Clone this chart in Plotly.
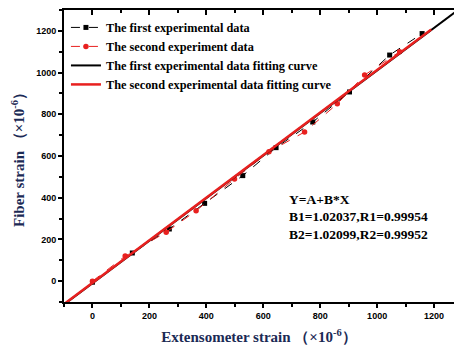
import plotly.graph_objects as go

# Data
x1 = [0, 140, 270, 394, 528, 645, 774, 903, 1044, 1158]
y1 = [-5, 135, 250, 373, 506, 640, 763, 907, 1084, 1187]
x2 = [0, 115, 259, 364, 499, 620, 745, 860, 956, 1079]
y2 = [0, 120, 235, 337, 490, 620, 715, 850, 988, 1100]

A1, B1 = -10, 1.02037
A2, B2 = -8, 1.02099
fit1_x = [-100, 1300]
fit2_x = [-100, 1190]
fit1_y = [A1 + B1 * v for v in fit1_x]
fit2_y = [A2 + B2 * v for v in fit2_x]

tick_vals = [0, 200, 400, 600, 800, 1000, 1200]
ann_lines = ["Y=A+B*X", "B1=1.02037,R1=0.99954", "B2=1.02099,R2=0.99952"]

navy = "#1b2a55"
serif = "Liberation Serif, Times New Roman, serif"

fig = go.Figure()
fig.add_trace(go.Scatter(x=x1, y=y1, mode="lines+markers",
                         name="The first experimental data",
                         line=dict(color="black", width=1, dash="dash"),
                         marker=dict(symbol="square", size=5, color="black")))
fig.add_trace(go.Scatter(x=x2, y=y2, mode="lines+markers",
                         name="The second experiment data",
                         line=dict(color="#e8201f", width=1, dash="dash"),
                         marker=dict(symbol="circle", size=5.5, color="#e8201f")))
fig.add_trace(go.Scatter(x=fit1_x, y=fit1_y, mode="lines",
                         name="The first experimental data fitting curve",
                         line=dict(color="black", width=2)))
fig.add_trace(go.Scatter(x=fit2_x, y=fit2_y, mode="lines",
                         name="The second experimental data fitting curve",
                         line=dict(color="#e8201f", width=2.5)))

tickfont = dict(family="Liberation Sans, Arial, sans-serif", size=9, color="black", weight="bold")
minor_x = [-100, 100, 300, 500, 700, 900, 1100]
minor_y = [-100, 100, 300, 500, 700, 900, 1100, 1300]

fig.update_layout(
    width=454, height=347,
    margin=dict(l=64, r=0, t=10, b=45),
    plot_bgcolor="white", paper_bgcolor="white",
    showlegend=True,
    legend=dict(x=0.005, y=0.99, xanchor="left", yanchor="top",
                bgcolor="rgba(0,0,0,0)", itemwidth=30, tracegroupgap=0,
                font=dict(family=serif, size=12.3, color="black", weight="bold")),
    xaxis=dict(range=[-100, 1270], tickvals=tick_vals,
               showgrid=False, zeroline=False, showline=True, linecolor="black", linewidth=2,
               ticks="outside", ticklen=4, tickwidth=1.5, tickcolor="black",
               minor=dict(tickvals=minor_x, ticks="outside", ticklen=3, tickwidth=1.5, tickcolor="black"),
               tickfont=tickfont,
               title=dict(text="Extensometer strain （×10<sup>-6</sup>）", standoff=12,
                          font=dict(family=serif, size=15, color=navy, weight="bold"))),
    xaxis2=dict(overlaying="x", side="top", matches="x", range=[-100, 1270],
                tickvals=tick_vals,
                showgrid=False, zeroline=False, showline=True, linecolor="black", linewidth=2,
                ticks="inside", ticklen=5, tickwidth=1.5, tickcolor="black", showticklabels=False,
                minor=dict(tickvals=minor_x, ticks="inside", ticklen=3, tickwidth=1.5, tickcolor="black")),
    yaxis=dict(range=[-100, 1300], tickvals=tick_vals,
               showgrid=False, zeroline=False, showline=True, linecolor="black", linewidth=2,
               ticks="outside", ticklen=4, tickwidth=1.5, tickcolor="black",
               minor=dict(tickvals=minor_y, ticks="outside", ticklen=3, tickwidth=1.5, tickcolor="black"),
               tickfont=tickfont,
               title=dict(text="Fiber strain （×10<sup>-6</sup>）", standoff=8,
                          font=dict(family=serif, size=15, color=navy, weight="bold"))),
)

# invisible trace so the top axis is drawn
fig.add_trace(go.Scatter(x=[0], y=[0], xaxis="x2", mode="markers",
                         marker=dict(opacity=0), showlegend=False, hoverinfo="skip"))

ann_py = [199, 216.5, 234]
for txt, py in zip(ann_lines, ann_py):
    fig.add_annotation(x=(287 - 64) / (454 - 64), y=(347 - py - 45) / (347 - 10 - 45),
                       xref="paper", yref="paper",
                       text=txt, showarrow=False, xanchor="left", yanchor="middle",
                       font=dict(family=serif, size=13.5, color="black", weight="bold"))

fig.write_html("out.html")
